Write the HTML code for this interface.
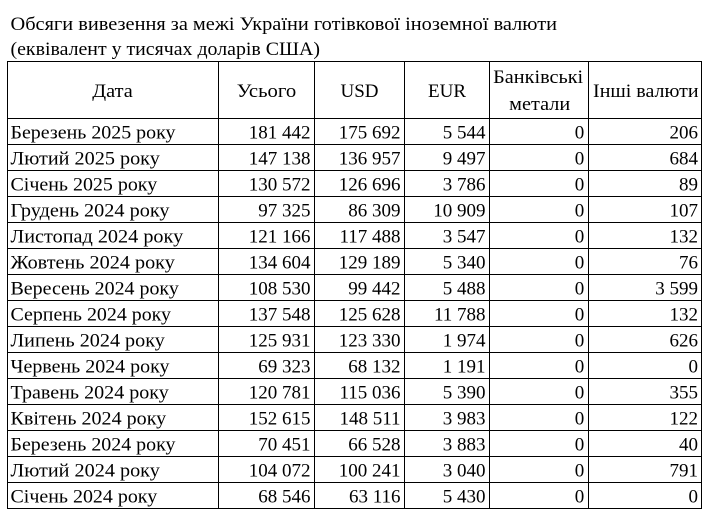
<!DOCTYPE html>
<html><head><meta charset="utf-8"><style>
html,body{margin:0;padding:0;background:#fff;}
svg{display:block;}
text{font-family:"Liberation Serif","DejaVu Serif",serif;font-size:19px;fill:#000;}
.r{text-anchor:end;}
.c{text-anchor:middle;}
</style></head><body>
<svg width="722" height="528" viewBox="0 0 722 528" xmlns="http://www.w3.org/2000/svg">
<rect x="0" y="0" width="722" height="528" fill="#fff"/>
<text x="10.5" y="30" textLength="546.5" lengthAdjust="spacingAndGlyphs">Обсяги вивезення за межі України готівкової іноземної валюти</text>
<text x="10.5" y="55" textLength="309.5" lengthAdjust="spacingAndGlyphs">(еквівалент у тисячах доларів США)</text>
<g fill="#000">
<rect x="7" y="61" width="695" height="1"/>
<rect x="7" y="118" width="695" height="1"/>
<rect x="7" y="144" width="695" height="1"/>
<rect x="7" y="170" width="695" height="1"/>
<rect x="7" y="196" width="695" height="1"/>
<rect x="7" y="222" width="695" height="1"/>
<rect x="7" y="248" width="695" height="1"/>
<rect x="7" y="274" width="695" height="1"/>
<rect x="7" y="300" width="695" height="1"/>
<rect x="7" y="326" width="695" height="1"/>
<rect x="7" y="352" width="695" height="1"/>
<rect x="7" y="378" width="695" height="1"/>
<rect x="7" y="404" width="695" height="1"/>
<rect x="7" y="430" width="695" height="1"/>
<rect x="7" y="456" width="695" height="1"/>
<rect x="7" y="482" width="695" height="1"/>
<rect x="7" y="508" width="695" height="1"/>
<rect x="7" y="61" width="1" height="448"/>
<rect x="218" y="61" width="1" height="448"/>
<rect x="314" y="61" width="1" height="448"/>
<rect x="404" y="61" width="1" height="448"/>
<rect x="489" y="61" width="1" height="448"/>
<rect x="588" y="61" width="1" height="448"/>
<rect x="701" y="61" width="1" height="448"/>
</g>
<text class="c" x="112.5" y="97" textLength="40.5" lengthAdjust="spacingAndGlyphs">Дата</text>
<text class="c" x="266.5" y="97" textLength="59.5" lengthAdjust="spacingAndGlyphs">Усього</text>
<text class="c" x="359.5" y="97">USD</text>
<text class="c" x="447" y="97">EUR</text>
<text class="c" x="538.2" y="82.8" textLength="90" lengthAdjust="spacingAndGlyphs">Банківські</text>
<text class="c" x="539.7" y="109.8" textLength="61" lengthAdjust="spacingAndGlyphs">метали</text>
<text class="c" x="645.8" y="97" textLength="105.5" lengthAdjust="spacingAndGlyphs">Інші валюти</text>
<g>
<text x="10.5" y="138.3" textLength="165" lengthAdjust="spacingAndGlyphs">Березень 2025 року</text><text class="r" x="310.5" y="138.3">181 442</text><text class="r" x="400.5" y="138.3">175 692</text><text class="r" x="485.5" y="138.3">5 544</text><text class="r" x="584.3" y="138.3">0</text><text class="r" x="698" y="138.3">206</text>
<text x="10.5" y="164.3" textLength="149.3" lengthAdjust="spacingAndGlyphs">Лютий 2025 року</text><text class="r" x="310.5" y="164.3">147 138</text><text class="r" x="400.5" y="164.3">136 957</text><text class="r" x="485.5" y="164.3">9 497</text><text class="r" x="584.3" y="164.3">0</text><text class="r" x="698" y="164.3">684</text>
<text x="10.5" y="190.3" textLength="146.7" lengthAdjust="spacingAndGlyphs">Січень 2025 року</text><text class="r" x="310.5" y="190.3">130 572</text><text class="r" x="400.5" y="190.3">126 696</text><text class="r" x="485.5" y="190.3">3 786</text><text class="r" x="584.3" y="190.3">0</text><text class="r" x="698" y="190.3">89</text>
<text x="10.5" y="216.3" textLength="159" lengthAdjust="spacingAndGlyphs">Грудень 2024 року</text><text class="r" x="310.5" y="216.3">97 325</text><text class="r" x="400.5" y="216.3">86 309</text><text class="r" x="485.5" y="216.3">10 909</text><text class="r" x="584.3" y="216.3">0</text><text class="r" x="698" y="216.3">107</text>
<text x="10.5" y="242.3" textLength="172.7" lengthAdjust="spacingAndGlyphs">Листопад 2024 року</text><text class="r" x="310.5" y="242.3">121 166</text><text class="r" x="400.5" y="242.3">117 488</text><text class="r" x="485.5" y="242.3">3 547</text><text class="r" x="584.3" y="242.3">0</text><text class="r" x="698" y="242.3">132</text>
<text x="10.5" y="268.3" textLength="164.3" lengthAdjust="spacingAndGlyphs">Жовтень 2024 року</text><text class="r" x="310.5" y="268.3">134 604</text><text class="r" x="400.5" y="268.3">129 189</text><text class="r" x="485.5" y="268.3">5 340</text><text class="r" x="584.3" y="268.3">0</text><text class="r" x="698" y="268.3">76</text>
<text x="10.5" y="294.3" textLength="168.3" lengthAdjust="spacingAndGlyphs">Вересень 2024 року</text><text class="r" x="310.5" y="294.3">108 530</text><text class="r" x="400.5" y="294.3">99 442</text><text class="r" x="485.5" y="294.3">5 488</text><text class="r" x="584.3" y="294.3">0</text><text class="r" x="698" y="294.3">3 599</text>
<text x="10.5" y="320.3" textLength="160.5" lengthAdjust="spacingAndGlyphs">Серпень 2024 року</text><text class="r" x="310.5" y="320.3">137 548</text><text class="r" x="400.5" y="320.3">125 628</text><text class="r" x="485.5" y="320.3">11 788</text><text class="r" x="584.3" y="320.3">0</text><text class="r" x="698" y="320.3">132</text>
<text x="10.5" y="346.3" textLength="154.3" lengthAdjust="spacingAndGlyphs">Липень 2024 року</text><text class="r" x="310.5" y="346.3">125 931</text><text class="r" x="400.5" y="346.3">123 330</text><text class="r" x="485.5" y="346.3">1 974</text><text class="r" x="584.3" y="346.3">0</text><text class="r" x="698" y="346.3">626</text>
<text x="10.5" y="372.3" textLength="159" lengthAdjust="spacingAndGlyphs">Червень 2024 року</text><text class="r" x="310.5" y="372.3">69 323</text><text class="r" x="400.5" y="372.3">68 132</text><text class="r" x="485.5" y="372.3">1 191</text><text class="r" x="584.3" y="372.3">0</text><text class="r" x="698" y="372.3">0</text>
<text x="10.5" y="398.3" textLength="158.3" lengthAdjust="spacingAndGlyphs">Травень 2024 року</text><text class="r" x="310.5" y="398.3">120 781</text><text class="r" x="400.5" y="398.3">115 036</text><text class="r" x="485.5" y="398.3">5 390</text><text class="r" x="584.3" y="398.3">0</text><text class="r" x="698" y="398.3">355</text>
<text x="10.5" y="424.3" textLength="155.7" lengthAdjust="spacingAndGlyphs">Квітень 2024 року</text><text class="r" x="310.5" y="424.3">152 615</text><text class="r" x="400.5" y="424.3">148 511</text><text class="r" x="485.5" y="424.3">3 983</text><text class="r" x="584.3" y="424.3">0</text><text class="r" x="698" y="424.3">122</text>
<text x="10.5" y="450.3" textLength="165" lengthAdjust="spacingAndGlyphs">Березень 2024 року</text><text class="r" x="310.5" y="450.3">70 451</text><text class="r" x="400.5" y="450.3">66 528</text><text class="r" x="485.5" y="450.3">3 883</text><text class="r" x="584.3" y="450.3">0</text><text class="r" x="698" y="450.3">40</text>
<text x="10.5" y="476.3" textLength="149.3" lengthAdjust="spacingAndGlyphs">Лютий 2024 року</text><text class="r" x="310.5" y="476.3">104 072</text><text class="r" x="400.5" y="476.3">100 241</text><text class="r" x="485.5" y="476.3">3 040</text><text class="r" x="584.3" y="476.3">0</text><text class="r" x="698" y="476.3">791</text>
<text x="10.5" y="502.3" textLength="146.7" lengthAdjust="spacingAndGlyphs">Січень 2024 року</text><text class="r" x="310.5" y="502.3">68 546</text><text class="r" x="400.5" y="502.3">63 116</text><text class="r" x="485.5" y="502.3">5 430</text><text class="r" x="584.3" y="502.3">0</text><text class="r" x="698" y="502.3">0</text>
</g>
</svg>
</body></html>
